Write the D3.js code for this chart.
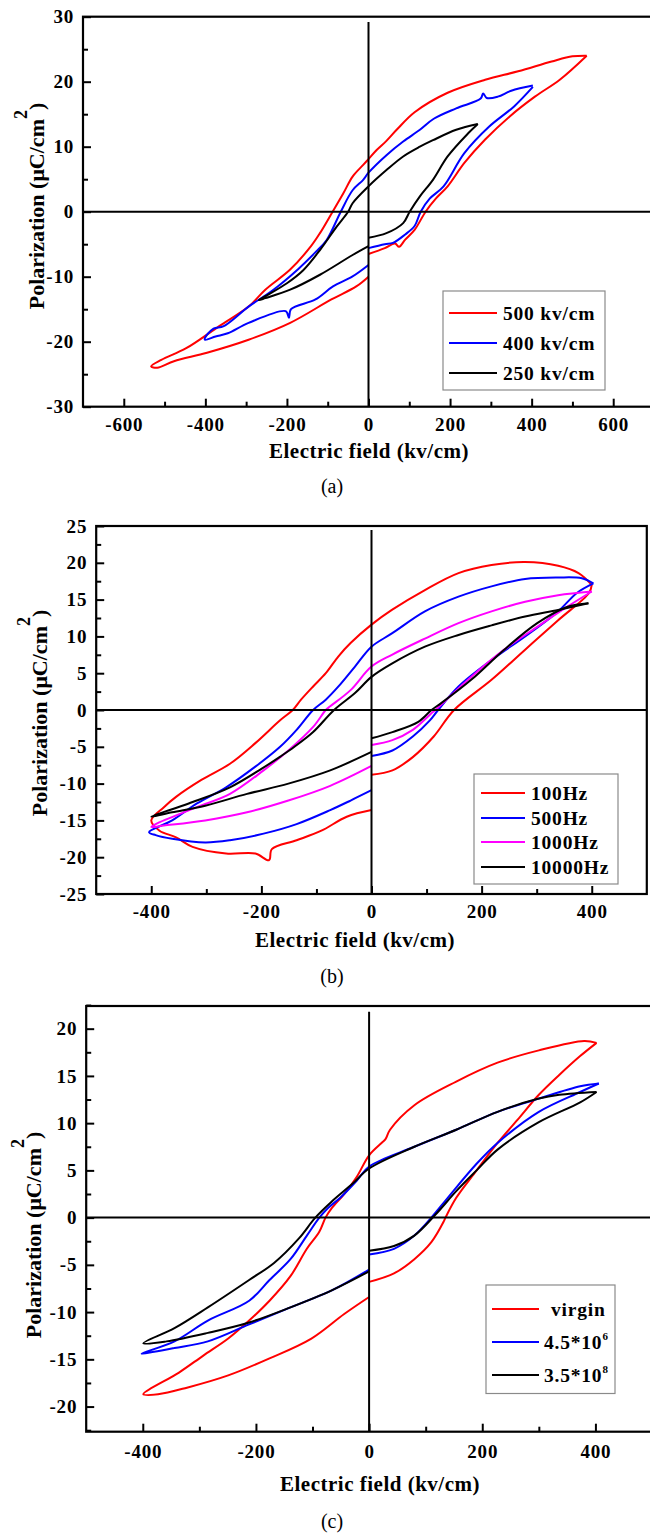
<!DOCTYPE html>
<html>
<head>
<meta charset="utf-8">
<script src="https://cdn.jsdelivr.net/npm/d3@7"></script>
<style>
  body { margin: 0; background: #fff; }
  text { font-family: "Liberation Serif", "Times New Roman", serif; }
</style>
</head>
<body>
<div id="chart"></div>
<script>
// ---- data: [E (kv/cm), P (uC/cm2)] ----
// each loop: tip -> upper branch -> left tip -> lower branch to E=0, then restarts at E=0 (jump hidden by the axis)
// (a) different fields
var a500 = [[535,24.0],[500,23.9],[449,23.1],[367,21.6],[286,20.3],[194,18.3],[113,15.3],[69,12.6],[44,10.9],[20,9.5],[0,8.1],
  [-13,7.2],[-39,5.4],[-62,2.8],[-88,0],[-119,-3.3],[-141,-5.3],[-192,-8.9],[-253,-12],[-294,-14.6],[-366,-17.6],[-447,-21],[-508,-22.8],[-533,-23.8],
  [-518,-24.0],[-477,-23.0],[-396,-21.7],[-294,-19.7],[-192,-17.1],[-91,-13.5],[-30,-11.5],[0,-10.0],
  [0,-6.5],[40,-5.6],[65,-4.9],[75,-5.4],[90,-4.3],[113,-2.8],[140,0],[165,2.0],[194,3.9],[235,7.5],[286,11.1],[347,14.7],[408,17.7],[469,20.3],[535,24.0]];
var a400 = [[403,19.4],[350,18.6],[317,17.7],[290,17.5],[281,18.2],[275,17.4],[215,15.9],[160,14.3],[126,12.6],[85,10.8],[44,8.7],[0,6.0],
  [-13,4.9],[-39,3.3],[-68,0],[-103,-4.4],[-131,-6.3],[-172,-8.8],[-233,-12],[-294,-14.6],[-355,-17.6],[-380,-18.0],[-401,-19.4],
  [-401,-19.7],[-375,-19.2],[-345,-18.7],[-294,-17.1],[-203,-15.3],[-195,-16.3],[-190,-15.0],[-130,-13.5],[-87,-11.5],[-40,-10.0],[0,-8.2],
  [0,-5.6],[40,-5.0],[60,-4.8],[90,-3.5],[113,-2.2],[128,0],[150,2.0],[184,3.9],[235,9.0],[296,13.1],[357,16.2],[403,19.2]];
var a250 = [[268,13.5],[215,12.6],[158,11.0],[126,10.0],[85,8.5],[44,6.4],[0,3.9],
  [-39,1.3],[-50,0],[-78,-2.3],[-119,-5.9],[-160,-9.0],[-200,-11],[-253,-13],[-269,-13.6],
  [-253,-13.3],[-192,-12],[-119,-9.7],[-40,-6.7],[0,-5.3],
  [0,-4.0],[44,-3.3],[85,-1.75],[101,0],[126,2.35],[158,4.9],[194,8.5],[245,12.1],[268,13.5]];

// (b) different frequencies
var b100 = [[400,17.0],[376,18.6],[339,19.6],[279,20.1],[218,19.7],[158,18.6],[97,16.3],[37,13.6],[0,11.6],
  [-38,9.1],[-60,7.3],[-83,5.0],[-106,3.2],[-128,1.4],[-143,0],[-166,-1.4],[-211,-4.5],[-257,-7.3],[-309,-9.5],[-355,-11.8],[-377,-13.2],[-400,-15.0],
  [-385,-16.4],[-355,-17.3],[-325,-18.6],[-264,-19.5],[-211,-19.5],[-186,-20.4],[-181,-18.9],[-136,-17.7],[-91,-16.4],[-45,-14.5],[0,-13.6],
  [0,-8.8],[38,-8.2],[75,-6.4],[113,-3.6],[150,0],[218,4.1],[279,8.2],[339,12.2],[395,15.9],[400,17.0]];
var b500 = [[403,17.2],[382,17.9],[339,18.0],[279,17.8],[218,16.8],[158,15.4],[97,13.4],[37,10.4],[0,8.6],
  [-30,5.9],[-60,3.2],[-83,1.4],[-106,0],[-136,-2.7],[-166,-5.0],[-211,-7.7],[-264,-10.5],[-317,-12.7],[-362,-15.0],[-404,-16.6],
  [-392,-17.0],[-362,-17.5],[-302,-18.0],[-257,-17.7],[-196,-16.8],[-136,-15.5],[-75,-13.6],[-38,-12.3],[0,-10.9],
  [0,-6.25],[38,-5.5],[75,-3.6],[106,-1.4],[121,0],[158,3.2],[218,6.8],[279,10.0],[339,13.4],[373,15.9],[403,17.2]];
var b1000 = [[400,16.1],[339,15.6],[279,14.7],[218,13.4],[158,11.8],[97,9.7],[37,7.5],[0,5.9],
  [-38,2.7],[-75,0.5],[-83,0],[-106,-2.3],[-151,-5.5],[-196,-8.2],[-257,-11.4],[-317,-13.2],[-392,-15.5],
  [-400,-15.9],[-377,-15.7],[-302,-15.0],[-226,-13.9],[-151,-12.3],[-75,-10.3],[0,-7.6],
  [0,-4.75],[38,-4.1],[75,-2.7],[108,-0.5],[116,0],[181,4.5],[241,8.2],[301,11.3],[355,14.0],[400,16.1]];
var b10000 = [[394,14.5],[339,13.6],[279,12.7],[218,11.5],[158,10.2],[97,8.6],[37,6.3],[0,4.5],
  [-30,2.3],[-68,0],[-106,-3.0],[-140,-5.0],[-165,-6.3],[-200,-8.0],[-257,-10.5],[-332,-12.7],[-400,-14.5],
  [-362,-13.9],[-302,-13.0],[-226,-11.4],[-151,-10.0],[-75,-8.2],[0,-5.7],
  [0,-3.85],[38,-3.0],[85,-1.6],[109,0],[126,0.9],[181,4.1],[241,8.2],[301,11.8],[355,14.0],[394,14.5]];

// (c) fatigue cycles
var cVirgin = [[402,18.5],[380,18.7],[300,17.7],[227,16.4],[154,14.4],[80,11.9],[37,9.3],[29,8.3],[22,7.9],[0,6.6],
  [-22,4.3],[-44,2.5],[-66,1.0],[-77,0],[-88,-1.5],[-110,-3.3],[-139,-6.2],[-176,-8.8],[-212,-10.9],[-249,-12.8],[-293,-14.6],[-336,-16.4],[-399,-18.7],
  [-373,-18.7],[-322,-18.0],[-249,-16.7],[-176,-14.9],[-102,-12.8],[-44,-10.2],[0,-8.4],
  [0,-6.8],[44,-5.9],[80,-4.4],[110,-2.6],[132,-0.4],[135,0],[154,2.1],[190,5.0],[227,7.9],[263,10.4],[300,13.0],[336,15.1],[373,17.1],[402,18.5]];
var c45e6 = [[406,14.2],[373,13.9],[300,12.6],[227,11.2],[154,9.3],[80,7.5],[0,5.4],
  [-22,3.9],[-51,2.1],[-73,1.0],[-88,0],[-110,-1.9],[-139,-4.4],[-176,-6.6],[-212,-8.8],[-285,-10.9],[-344,-13.1],[-402,-14.4],
  [-380,-14.2],[-344,-13.8],[-285,-13.1],[-212,-11.3],[-139,-9.5],[-66,-7.7],[0,-5.5],
  [0,-3.9],[44,-3.3],[80,-1.9],[110,0],[139,2.1],[190,5.7],[227,7.9],[300,11.2],[373,13.3],[406,14.2]];
var c35e8 = [[402,13.3],[336,13.0],[300,12.6],[227,11.2],[154,9.3],[80,7.5],[0,5.2],
  [-29,3.6],[-66,1.7],[-95,0],[-124,-2.2],[-168,-4.8],[-212,-6.6],[-285,-9.5],[-344,-11.7],[-399,-13.3],
  [-358,-13.1],[-285,-12.2],[-212,-11.1],[-139,-9.5],[-66,-7.7],[0,-5.7],
  [0,-3.5],[44,-3.0],[80,-1.9],[117,0.3],[154,2.8],[190,5.0],[227,7.2],[300,10.1],[373,12.2],[402,13.3]];

var legendA = ["500 kv/cm", "400 kv/cm", "250 kv/cm"];
var legendB = ["100Hz", "500Hz", "1000Hz", "10000Hz"];
var legendC = ["virgin", "4.5*10^6", "3.5*10^8"];

var xTicksA = [-600,-400,-200,0,200,400,600], xMinorA = [-500,-300,-100,100,300,500];
var xTicksBC = [-400,-200,0,200,400], xMinorBC = [-300,-100,100,300];
var yTicksA = [-30,-20,-10,0,10,20,30], yMinorA = [-25,-15,-5,5,15,25];
var yTicksB = [-25,-20,-15,-10,-5,0,5,10,15,20,25], yMinorB = [-22.5,-17.5,-12.5,-7.5,-2.5,2.5,7.5,12.5,17.5,22.5];
var yTicksC = [-20,-15,-10,-5,0,5,10,15,20], yMinorC = [-22.5,-17.5,-12.5,-7.5,-2.5,2.5,7.5,12.5,17.5,22.5];

var RED = "#ff0000", BLUE = "#0000ff", MAG = "#ff00ff", BLK = "#000000";

var panels = [
  { l: 83, t: 16.7, r: 654, b: 406.7, xDom: [-700,700], yDom: [-30,30],
    xt: xTicksA, xm: xMinorA, yt: yTicksA, ym: yMinorA, zTop: 22,
    series: [a500, a400, a250], colors: [RED, BLUE, BLK], names: legendA,
    leg: { x0: 443, y0: 291, x1: 605, y1: 390, rows: [313,343,373], lx: [449,497], tx: [503,503,503] },
    tickPad: 11, titleX: 369, titleY: 458, tag: "(a)", tagY: 493, ylab: [44,206] },
  { l: 96.2, t: 526, r: 646.8, b: 894, xDom: [-500,500], yDom: [-25,25],
    xt: xTicksBC, xm: xMinorBC, yt: yTicksB, ym: yMinorB, zTop: 530,
    series: [b100, b500, b1000, b10000], colors: [RED, BLUE, MAG, BLK], names: legendB,
    leg: { x0: 474, y0: 774, x1: 618, y1: 884, rows: [793,818,842,867], lx: [481,525], tx: [531,531,531,531] },
    tickPad: 11, titleX: 355, titleY: 947, tag: "(b)", tagY: 983, ylab: [47,713] },
  { l: 86.2, t: 1006, r: 652, b: 1431.7, xDom: [-500,500], yDom: [-22.66,22.4],
    xt: xTicksBC, xm: xMinorBC, yt: yTicksC, ym: yMinorC, zTop: 1011.7,
    series: [cVirgin, c45e6, c35e8], colors: [RED, BLUE, BLK], names: legendC,
    leg: { x0: 486, y0: 1285, x1: 615, y1: 1393.5, rows: [1309,1342,1375], lx: [492,539], tx: [551,544,544] },
    tickPad: 13, titleX: 380, titleY: 1491, tag: "(c)", tagY: 1528, ylab: [41,1235] }
];

var svg = d3.select("#chart").append("svg")
  .attr("width", 650)
  .attr("height", 1536);

var serif = '"Liberation Serif", "Times New Roman", serif';

function styleAxis(sel, size) {
  sel.attr("font-family", serif).attr("font-size", size).attr("font-weight", "bold");
  sel.select(".domain").remove();
  sel.selectAll("line").attr("stroke", "#000").attr("stroke-width", 2);
  sel.selectAll("text").attr("fill", "#000").attr("letter-spacing", 0.8);
}

// split a loop where it jumps along E = 0 (two consecutive points at E = 0)
function splitJump(s) {
  for (var i = 0; i < s.length - 1; i++) {
    if (s[i][0] === 0 && s[i + 1][0] === 0) return [s.slice(0, i + 1), s.slice(i + 1)];
  }
  return [s];
}

panels.forEach(function(p) {
  var x = d3.scaleLinear().domain(p.xDom).range([p.l, p.r]);
  var y = d3.scaleLinear().domain(p.yDom).range([p.b, p.t]);
  var g = svg.append("g");

  // ticks (pointing inward)
  g.append("g").attr("transform", "translate(0," + p.b + ")")
    .call(d3.axisBottom(x).tickValues(p.xm).tickSize(-5).tickFormat(""))
    .call(styleAxis, 19);
  g.append("g").attr("transform", "translate(0," + p.b + ")")
    .call(d3.axisBottom(x).tickValues(p.xt).tickSize(-8).tickPadding(p.tickPad).tickFormat(function(d) { return String(d); }))
    .call(styleAxis, 19);
  g.append("g").attr("transform", "translate(" + p.l + ",0)")
    .call(d3.axisLeft(y).tickValues(p.ym).tickSize(-5).tickFormat(""))
    .call(styleAxis, 19);
  g.append("g").attr("transform", "translate(" + p.l + ",0)")
    .call(d3.axisLeft(y).tickValues(p.yt).tickSize(-8).tickPadding(9).tickFormat(function(d) { return String(d); }))
    .call(styleAxis, 19);

  // frame
  g.append("rect")
    .attr("x", p.l).attr("y", p.t)
    .attr("width", p.r - p.l).attr("height", p.b - p.t)
    .attr("fill", "none").attr("stroke", "#000").attr("stroke-width", 2.2);

  // loops
  var line = d3.line()
    .x(function(d) { return x(d[0]); })
    .y(function(d) { return y(d[1]); })
    .curve(d3.curveCatmullRom.alpha(0.5));
  p.series.forEach(function(s, i) {
    splitJump(s).forEach(function(part) {
      g.append("path")
        .datum(part)
        .attr("fill", "none")
        .attr("stroke", p.colors[i])
        .attr("stroke-width", 2)
        .attr("stroke-linejoin", "round")
        .attr("d", line);
    });
  });

  // zero lines
  g.append("line")
    .attr("x1", p.l).attr("x2", p.r).attr("y1", y(0)).attr("y2", y(0))
    .attr("stroke", "#000").attr("stroke-width", 2);
  g.append("line")
    .attr("x1", x(0)).attr("x2", x(0)).attr("y1", p.zTop).attr("y2", p.b)
    .attr("stroke", "#000").attr("stroke-width", 2);

  // legend
  var L = p.leg;
  g.append("rect")
    .attr("x", L.x0).attr("y", L.y0)
    .attr("width", L.x1 - L.x0).attr("height", L.y1 - L.y0)
    .attr("fill", "#fff").attr("stroke", "#8a8a8a").attr("stroke-width", 1.2);
  p.names.forEach(function(name, i) {
    var ry = L.rows[i];
    g.append("line")
      .attr("x1", L.lx[0]).attr("x2", L.lx[1]).attr("y1", ry).attr("y2", ry)
      .attr("stroke", p.colors[i]).attr("stroke-width", 2);
    var parts = name.split("^");
    var t = g.append("text")
      .attr("x", L.tx[i]).attr("y", ry + 6.5)
      .attr("font-size", 19.5).attr("font-weight", "bold")
      .attr("letter-spacing", 0.8);
    t.append("tspan").text(parts[0]);
    if (parts[1]) {
      t.append("tspan").attr("dy", -9).attr("font-size", 11).text(parts[1]);
    }
  });

  // axis titles
  g.append("text")
    .attr("x", p.titleX).attr("y", p.titleY)
    .attr("text-anchor", "middle")
    .attr("font-size", 21).attr("font-weight", "bold")
    .attr("letter-spacing", 0.5)
    .text("Electric field (kv/cm)");

  var yl = g.append("text")
    .attr("transform", "translate(" + p.ylab[0] + "," + p.ylab[1] + ") rotate(-90)")
    .attr("text-anchor", "middle")
    .attr("font-size", 22).attr("font-weight", "bold");
  yl.append("tspan").text("Polarization (\u03bcC/cm");
  yl.append("tspan").attr("dy", -17).attr("font-size", 18).text("2");
  yl.append("tspan").attr("dy", 17).text(")");

  // panel tag
  g.append("text")
    .attr("x", 332).attr("y", p.tagY)
    .attr("text-anchor", "middle")
    .attr("font-size", 20)
    .text(p.tag);
});
</script>
</body>
</html>
